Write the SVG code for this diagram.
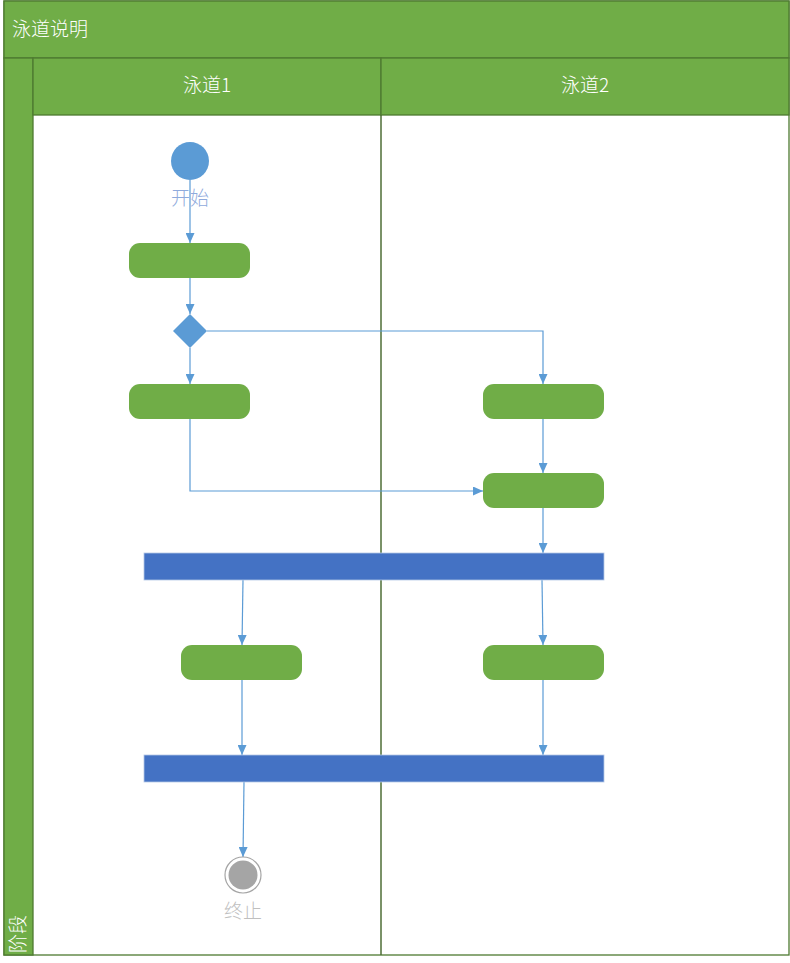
<svg xmlns="http://www.w3.org/2000/svg" width="790" height="963" viewBox="0 0 790 963">
<style>
.hdr{fill:#70AD47;stroke:#4E7A31;stroke-width:1.3}
.act{fill:#70AD47}
.bar{fill:#4472C4;stroke:#B4C7E7;stroke-width:0.8}
.wt{font-family:"Noto Sans CJK SC","Liberation Sans",sans-serif;font-size:19px;font-weight:300;fill:#FFFFFF}
.lbl{font-family:"Noto Sans CJK SC","Liberation Sans",sans-serif;font-size:19px;font-weight:300;text-anchor:middle}
.c{fill:none;stroke:#5B9BD5;stroke-width:1.2}
</style>
<defs>
<marker id="ah" markerWidth="10" markerHeight="9" refX="10" refY="4.5" orient="auto" markerUnits="userSpaceOnUse">
<path d="M0,0 L10,4.5 L0,9 Z" fill="#5B9BD5"/>
</marker>
</defs>
<rect x="0" y="0" width="790" height="963" fill="#FFFFFF"/>
<g id="pool">
<rect x="4" y="1" width="785" height="954" fill="#FFFFFF" stroke="#4E7A31" stroke-width="1.3"/>
<rect class="hdr" x="4" y="1" width="785" height="57"/>
<text class="wt" x="12" y="36">泳道说明</text>
<rect class="hdr" x="4" y="58" width="29" height="897"/>
<text class="wt" transform="translate(25,953) rotate(-90)">阶段</text>
</g>
<g id="lane1">
<rect class="hdr" x="33" y="58" width="348" height="57"/>
<text class="wt" x="207" y="92" text-anchor="middle">泳道1</text>
</g>
<g id="lane2">
<rect class="hdr" x="381" y="58" width="408" height="57"/>
<text class="wt" x="585" y="92" text-anchor="middle">泳道2</text>
<line x1="381" y1="115" x2="381" y2="955" stroke="#4E6E36" stroke-width="1.5"/>
</g>
<g id="connectors">
<line class="c" x1="190" y1="180" x2="190" y2="243" marker-end="url(#ah)"/>
<line class="c" x1="190" y1="278" x2="190" y2="314" marker-end="url(#ah)"/>
<line class="c" x1="190" y1="348" x2="190" y2="384" marker-end="url(#ah)"/>
<polyline class="c" points="207,331 543,331 543,384" marker-end="url(#ah)"/>
<line class="c" x1="543" y1="419" x2="543" y2="473" marker-end="url(#ah)"/>
<polyline class="c" points="190,419 190,491 483,491" marker-end="url(#ah)"/>
<line class="c" x1="543" y1="508" x2="543" y2="553" marker-end="url(#ah)"/>
<line class="c" x1="243" y1="580" x2="242" y2="645" marker-end="url(#ah)"/>
<line class="c" x1="542" y1="580" x2="543" y2="645" marker-end="url(#ah)"/>
<line class="c" x1="242" y1="680" x2="242" y2="755" marker-end="url(#ah)"/>
<line class="c" x1="543" y1="680" x2="543" y2="755" marker-end="url(#ah)"/>
<line class="c" x1="244" y1="782" x2="243" y2="857" marker-end="url(#ah)"/>
</g>
<g id="start">
<circle cx="190" cy="161" r="19" fill="#5B9BD5"/>
<text class="lbl" x="190" y="205" fill="#8FAADC">开始</text>
</g>
<g id="act1"><rect class="act" x="129" y="243" width="121" height="35" rx="11"/></g>
<g id="decision"><polygon points="190,314 207,331 190,348 173,331" fill="#5B9BD5"/></g>
<g id="act2"><rect class="act" x="129" y="384" width="121" height="35" rx="11"/></g>
<g id="act3"><rect class="act" x="483" y="384" width="121" height="35" rx="11"/></g>
<g id="act4"><rect class="act" x="483" y="473" width="121" height="35" rx="11"/></g>
<g id="fork"><rect class="bar" x="144" y="553" width="460" height="27"/></g>
<g id="act5"><rect class="act" x="181" y="645" width="121" height="35" rx="11"/></g>
<g id="act6"><rect class="act" x="483" y="645" width="121" height="35" rx="11"/></g>
<g id="join"><rect class="bar" x="144" y="755" width="460" height="27"/></g>
<g id="end">
<circle cx="243" cy="875" r="18" fill="#FFFFFF" stroke="#A5A5A5" stroke-width="1.2"/>
<circle cx="243" cy="875" r="14.5" fill="#A5A5A5"/>
<text class="lbl" x="243" y="918" fill="#BFBFBF">终止</text>
</g>
</svg>
